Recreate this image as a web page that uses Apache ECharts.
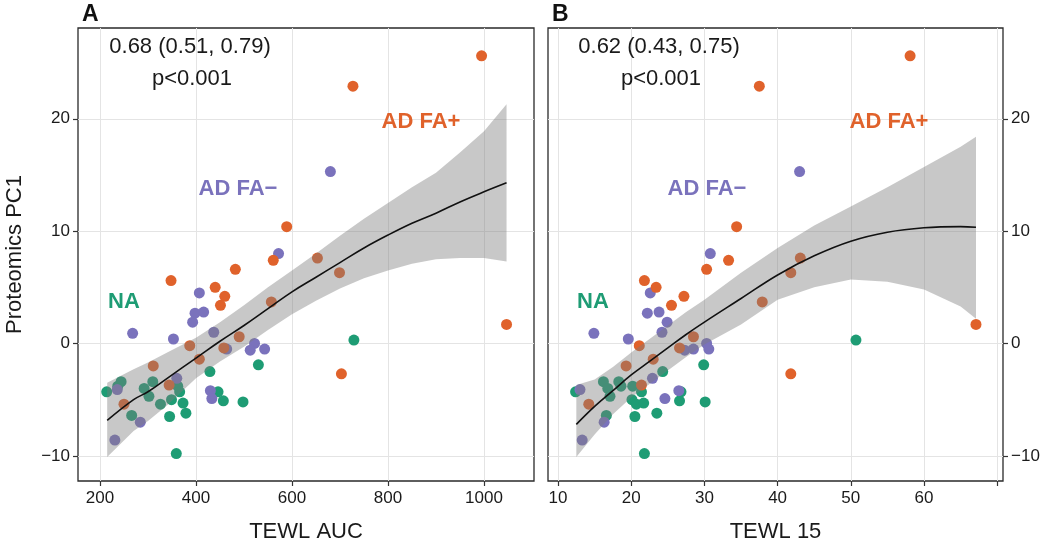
<!DOCTYPE html>
<html><head><meta charset="utf-8">
<script src="https://cdn.jsdelivr.net/npm/echarts@6/dist/echarts.min.js"></script>
<style>html,body{margin:0;padding:0;background:#fff}#c{width:1050px;height:548px}</style>
</head><body><div id="c"></div><script>
// ---- data ----
var orangeY = [25.6, 22.9, 10.4, 7.4, 6.6, 5.6, 5.0, 4.2, 3.4, 3.7, 7.6, 6.3, 0.6, -0.2, -1.4, -0.4, -2.0, -3.7, -5.4, -2.7, 1.7];
var orangeA = [995, 727, 589, 561, 482, 348, 440, 460, 451, 557, 653, 699, 490, 387, 407, 458, 311, 344, 250, 703, 1047];
var orangeB = [58.1, 37.5, 34.4, 33.3, 30.3, 21.8, 23.4, 27.2, 25.5, 37.9, 43.1, 41.8, 28.5, 21.1, 23.0, 26.6, 19.3, 21.4, 14.2, 41.8, 67.1];

var purpleY = [15.3, 8.0, 4.5, 2.7, 2.8, 1.9, 0.9, 0.4, 1.0, 0.0, -0.6, -0.5, -0.5, -3.1, -4.2, -4.9, -7.0, -8.6, -4.1];
var purpleA = [680, 572, 407, 398, 416, 393, 268, 353, 437, 522, 513, 464, 543, 360, 430, 433, 284, 231, 236];
var purpleB = [43.0, 30.8, 22.6, 22.2, 23.8, 24.9, 14.9, 19.6, 24.2, 30.3, 27.3, 28.5, 30.6, 22.9, 26.5, 24.6, 16.3, 13.3, 13.0];

var greenY = [0.3, -1.9, -2.5, -3.4, -4.3, -3.4, -4.0, -4.7, -3.8, -3.8, -4.3, -4.3, -5.0, -5.1, -5.2, -5.4, -5.3, -6.2, -6.4, -6.5, -9.8];
var greenA = [729, 530, 429, 244, 214, 310, 292, 302, 237, 362, 366, 446, 349, 457, 498, 326, 373, 379, 266, 345, 359];
var greenB = [50.7, 29.9, 24.3, 16.2, 12.4, 18.3, 16.8, 17.1, 18.6, 20.2, 21.4, 26.8, 20.1, 26.6, 30.1, 20.7, 21.7, 23.5, 16.6, 20.5, 21.8];

var fitAX  = [215, 270, 300, 340, 400, 450, 500, 550, 600, 650, 700, 750, 800, 850, 900, 950, 1000, 1047];
var fitAY  = [-6.85, -5.0, -4.3, -3.1, -1.3, 0.2, 1.6, 3.1, 4.6, 5.9, 7.2, 8.5, 9.65, 10.7, 11.6, 12.6, 13.5, 14.3];
var fitALo = [-10.1, -7.8, -6.9, -5.5, -3.1, -1.6, -0.3, 1.2, 2.6, 3.8, 4.9, 5.8, 6.5, 7.1, 7.5, 7.6, 7.6, 7.3];
var fitAHi = [-3.5, -2.3, -1.7, -0.8, 0.5, 1.9, 3.4, 5.0, 6.5, 8.0, 9.6, 11.1, 12.5, 13.9, 15.2, 17.0, 18.9, 21.3];

var fitBX  = [12.5, 15, 17.5, 20, 22.5, 25, 27.5, 30, 35, 40, 45, 50, 55, 60, 65, 67.1];
var fitBY  = [-7.2, -5.6, -4.2, -2.8, -1.6, -0.4, 0.8, 1.9, 4.0, 6.1, 7.8, 9.1, 9.9, 10.3, 10.4, 10.35];
var fitBLo = [-10.1, -8.1, -6.3, -4.8, -3.6, -2.4, -1.2, -0.1, 1.7, 3.9, 5.0, 5.7, 5.5, 4.8, 3.3, 2.2];
var fitBHi = [-3.7, -3.2, -2.1, -0.8, 0.4, 1.6, 2.8, 3.9, 6.3, 8.5, 10.5, 12.2, 13.9, 15.7, 17.5, 18.4];

var xTicksA = [200, 400, 600, 800, 1000];
var xTicksB = [10, 20, 30, 40, 50, 60, 70];
var xLabelsB = [10, 20, 30, 40, 50, 60];
var yTicks = [-10, 0, 10, 20];

var statsA = ['0.68 (0.51, 0.79)', 'p<0.001'];
var statsB = ['0.62 (0.43, 0.75)', 'p<0.001'];
var groupNames = ['AD FA+', 'AD FA\u2212', 'NA'];

// ---- style ----
var COL_O = '#E0622B', COL_P = '#7A72BC', COL_G = '#1E9C74';
var FONT = '"Liberation Sans", Arial, Helvetica, sans-serif';
var TXT = '#1a1a1a';

function zip(xs, ys) { return xs.map(function (x, i) { return [x, ys[i]]; }); }
function fmt(v) { return String(v).replace('-', '\u2212'); }

function scatter(gi, xs, ys, color) {
  return { type: 'scatter', xAxisIndex: gi, yAxisIndex: gi, data: zip(xs, ys), symbolSize: 11,
    itemStyle: { color: color, opacity: 1 }, z: 2, silent: true };
}
function band(gi, xs, lo, hi) {
  return {
    type: 'custom', xAxisIndex: gi, yAxisIndex: gi, z: 3, silent: true,
    data: xs.map(function (x, i) { return [x, lo[i], hi[i]]; }),
    encode: { x: 0, y: [1, 2] },
    renderItem: function (params, api) {
      if (params.dataIndex !== 0) return null;
      var pts = [];
      for (var i = 0; i < xs.length; i++) pts.push(api.coord([xs[i], hi[i]]));
      for (var j = xs.length - 1; j >= 0; j--) pts.push(api.coord([xs[j], lo[j]]));
      return { type: 'polygon', shape: { points: pts }, style: { fill: 'rgba(125,125,125,0.42)' } };
    }
  };
}
function fitLine(gi, xs, ys) {
  return { type: 'line', xAxisIndex: gi, yAxisIndex: gi, data: zip(xs, ys), smooth: 0.4, showSymbol: false,
    lineStyle: { color: '#111', width: 1.6 }, z: 4, silent: true };
}

var axisLbl = { color: TXT, fontSize: 17, fontFamily: FONT, formatter: fmt };
var splitL = { show: true, lineStyle: { color: '#e4e4e4', width: 1 } };

function xAxis(gi, min, max, ticks, labels, name) {
  return { type: 'value', gridIndex: gi, min: min, max: max, position: 'bottom',
    axisLine: { show: false, onZero: false },
    axisTick: { show: true, customValues: ticks, length: 5, lineStyle: { color: '#333', width: 1.2 } },
    axisLabel: Object.assign({ customValues: labels, margin: 9 }, axisLbl),
    splitLine: splitL,
    name: name, nameLocation: 'middle', nameGap: 40,
    nameTextStyle: { color: TXT, fontSize: 22, fontFamily: FONT } };
}
function yAxis(gi, pos, name) {
  return { type: 'value', gridIndex: gi, min: -12.24, max: 28.08, position: pos,
    axisLine: { show: false, onZero: false },
    axisTick: { show: true, customValues: yTicks, length: 5, lineStyle: { color: '#333', width: 1.2 } },
    axisLabel: Object.assign({ customValues: yTicks, margin: 8 }, axisLbl),
    splitLine: splitL,
    name: name || '', nameLocation: 'middle', nameGap: 52,
    nameTextStyle: { color: TXT, fontSize: 22, fontFamily: FONT } };
}

function txt(x, y, s, size, color, weight) {
  return { type: 'text', x: x, y: y, z: 100, silent: true,
    style: { text: s, fill: color, font: (weight || 'normal') + ' ' + size + 'px ' + FONT,
      textAlign: 'center', textVerticalAlign: 'middle' } };
}

var chart = echarts.init(document.getElementById('c'), null, { renderer: 'canvas' });
chart.setOption({
  animation: false,
  backgroundColor: '#fff',
  grid: [
    { left: 78, top: 28, width: 456, height: 456, show: true, borderColor: '#2a2a2a', borderWidth: 1.3, backgroundColor: '#fff' },
    { left: 548, top: 28, width: 455, height: 456, show: true, borderColor: '#2a2a2a', borderWidth: 1.3, backgroundColor: '#fff' }
  ],
  xAxis: [
    xAxis(0, 154.2, 1104.2, xTicksA, xTicksA, 'TEWL AUC'),
    xAxis(1, 8.63, 70.79, xTicksB, xLabelsB, 'TEWL 15')
  ],
  yAxis: [ yAxis(0, 'left', 'Proteomics PC1'), yAxis(1, 'right', '') ],
  series: [
    scatter(0, greenA, greenY, COL_G), scatter(0, purpleA, purpleY, COL_P), scatter(0, orangeA, orangeY, COL_O),
    band(0, fitAX, fitALo, fitAHi), fitLine(0, fitAX, fitAY),
    scatter(1, greenB, greenY, COL_G), scatter(1, purpleB, purpleY, COL_P), scatter(1, orangeB, orangeY, COL_O),
    band(1, fitBX, fitBLo, fitBHi), fitLine(1, fitBX, fitBY)
  ],
  graphic: [
    { type: 'text', x: 82, y: 15, z: 100, style: { text: 'A', fill: '#111', font: 'bold 23px ' + FONT, textAlign: 'left', textVerticalAlign: 'middle' } },
    { type: 'text', x: 552, y: 15, z: 100, style: { text: 'B', fill: '#111', font: 'bold 23px ' + FONT, textAlign: 'left', textVerticalAlign: 'middle' } },
    txt(190, 47, statsA[0], 22, TXT), txt(192, 79, statsA[1], 22, TXT),
    txt(659, 47, statsB[0], 22, TXT), txt(661, 79, statsB[1], 22, TXT),
    txt(421, 122, groupNames[0], 22, COL_O, 'bold'), txt(889, 122, groupNames[0], 22, COL_O, 'bold'),
    txt(238, 189, groupNames[1], 22, COL_P, 'bold'), txt(707, 189, groupNames[1], 22, COL_P, 'bold'),
    txt(124, 302, groupNames[2], 22, COL_G, 'bold'), txt(593, 302, groupNames[2], 22, COL_G, 'bold')
  ]
});
</script></body></html>
